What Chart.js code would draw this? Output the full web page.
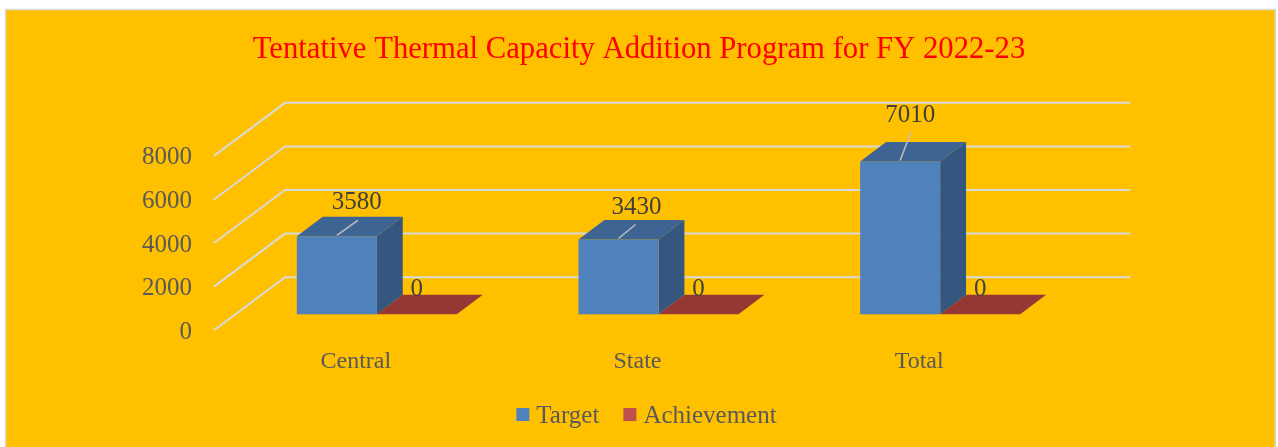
<!DOCTYPE html>
<html><head><meta charset="utf-8">
<script src="https://cdn.jsdelivr.net/npm/chart.js@4.4.0/dist/chart.umd.min.js"></script>
<style>html,body{margin:0;padding:0;background:#fff;overflow:hidden}</style>
</head><body>
<canvas id="c" width="1278" height="447" style="display:block;width:1278px;height:447px"></canvas>
<script>
// ---- data ----
const chartTitle = 'Tentative Thermal Capacity Addition Program for FY 2022-23';
const categories = ['Central', 'State', 'Total'];
const seriesNames = ['Target', 'Achievement'];
const targetValues = [3580, 3430, 7010];
const achievementValues = [0, 0, 0];
const yTicks = [0, 2000, 4000, 6000, 8000];

// ---- style ----
const SERIF = '"Liberation Serif", "Times New Roman", serif';
const COLORS = {
  bg: '#FFC000', border: '#D9D9D9', grid: '#D9D9D9', text: '#595959', label: '#404040',
  target: { front: '#4F81BD', top: '#3D6493', side: '#34567F' },
  achievement: { front: '#C0504D', top: '#943735', side: '#7A2C2A' }
};
const GEO = { wallDx: 70, wallDy: -53, barShift: 0.3, barDepth: 0.37 };
const LABEL_OFFSETS = [[20, -34], [18, -32], [10, -46]];
const LEADER_ENDS = [[21, -16], [17, -15], [11, -30]];

const plugin3d = {
  id: 'threeD',
  beforeDraw(chart) {
    const ctx = chart.ctx;
    ctx.save();
    ctx.fillStyle = '#FFFFFF';
    ctx.fillRect(0, 0, chart.width, chart.height);
    ctx.fillStyle = COLORS.bg;
    ctx.fillRect(5.5, 9.5, 1270, 440);
    ctx.strokeStyle = COLORS.border;
    ctx.lineWidth = 1.5;
    ctx.strokeRect(5.5, 9.5, 1270, 440);
    ctx.restore();
  },
  beforeDatasetsDraw(chart) {
    const ctx = chart.ctx, ys = chart.scales.y, a = chart.chartArea;
    ctx.save();
    ctx.strokeStyle = COLORS.grid;
    ctx.lineWidth = 2;
    ys.ticks.forEach(t => {
      const y = ys.getPixelForValue(t.value);
      ctx.beginPath();
      ctx.moveTo(a.left - 1, y);
      ctx.lineTo(a.left + GEO.wallDx, y + GEO.wallDy);
      ctx.lineTo(a.right + GEO.wallDx, y + GEO.wallDy);
      ctx.stroke();
    });
    ctx.restore();
  },
  beforeDatasetDraw() { return false; },
  afterDatasetsDraw(chart) {
    const ctx = chart.ctx;
    const sx = GEO.barShift * GEO.wallDx, sy = GEO.barShift * GEO.wallDy;
    const dx = GEO.barDepth * GEO.wallDx, dy = GEO.barDepth * GEO.wallDy;
    const palettes = [COLORS.target, COLORS.achievement];
    const tops = [[], []];
    ctx.save();
    categories.forEach((c, i) => {
      [1, 0].forEach(di => {
        const el = chart.getDatasetMeta(di).data[i];
        const pal = palettes[di];
        const x0 = el.x - el.width / 2 + sx, x1 = el.x + el.width / 2 + sx;
        const yT = el.y + sy, yB = el.base + sy;
        tops[di][i] = { cx: (x0 + x1) / 2, yT };
        ctx.fillStyle = pal.side;
        ctx.beginPath();
        ctx.moveTo(x1, yB); ctx.lineTo(x1 + dx, yB + dy); ctx.lineTo(x1 + dx, yT + dy); ctx.lineTo(x1, yT);
        ctx.closePath(); ctx.fill();
        if (yB - yT > 0.5) {
          ctx.fillStyle = pal.front;
          ctx.fillRect(x0, yT, x1 - x0, yB - yT);
        }
        ctx.fillStyle = pal.top;
        ctx.beginPath();
        ctx.moveTo(x0, yT); ctx.lineTo(x1, yT); ctx.lineTo(x1 + dx, yT + dy); ctx.lineTo(x0 + dx, yT + dy);
        ctx.closePath(); ctx.fill();
      });
    });
    ctx.font = '25px ' + SERIF;
    ctx.textAlign = 'center';
    ctx.textBaseline = 'middle';
    categories.forEach((c, i) => {
      const t = tops[0][i];
      ctx.strokeStyle = '#BFBFBF';
      ctx.lineWidth = 1.5;
      ctx.beginPath();
      ctx.moveTo(t.cx, t.yT - 1);
      ctx.lineTo(t.cx + LEADER_ENDS[i][0], t.yT + LEADER_ENDS[i][1]);
      ctx.stroke();
      ctx.fillStyle = COLORS.label;
      ctx.fillText(String(targetValues[i]), t.cx + LABEL_OFFSETS[i][0], t.yT + LABEL_OFFSETS[i][1]);
      const r = tops[1][i];
      ctx.fillText(String(achievementValues[i]), r.cx, r.yT - 25);
    });
    ctx.restore();
  },
  afterDraw(chart) {
    const ctx = chart.ctx;
    ctx.save();
    ctx.font = '25px ' + SERIF;
    ctx.textBaseline = 'middle';
    ctx.textAlign = 'left';
    const box = 13, gap = 7, itemGap = 24;
    const items = chart.data.datasets.map(d => ({ text: d.label, color: d.backgroundColor, w: ctx.measureText(d.label).width }));
    const total = items.reduce((s, it) => s + box + gap + it.w, 0) + itemGap * (items.length - 1);
    let x = 646.5 - total / 2;
    const y = 415;
    items.forEach(it => {
      ctx.fillStyle = it.color;
      ctx.fillRect(x, y - 7, box, box);
      ctx.fillStyle = COLORS.text;
      ctx.fillText(it.text, x + box + gap, y + 1);
      x += box + gap + it.w + itemGap;
    });
    ctx.restore();
  }
};

new Chart(document.getElementById('c'), {
  type: 'bar',
  data: {
    labels: categories,
    datasets: [
      { label: seriesNames[0], data: targetValues, backgroundColor: COLORS.target.front },
      { label: seriesNames[1], data: achievementValues, backgroundColor: COLORS.achievement.front }
    ]
  },
  options: {
    responsive: false,
    animation: false,
    devicePixelRatio: 1,
    layout: { padding: { top: 10, left: 0, right: 0, bottom: 54 } },
    datasets: { bar: { categoryPercentage: 0.568, barPercentage: 1 } },
    plugins: {
      legend: { display: false },
      tooltip: { enabled: false },
      title: {
        display: true, text: chartTitle, color: '#FF0000',
        font: { family: SERIF, size: 30.7, weight: 'normal' },
        padding: { top: 22, bottom: 87 }
      }
    },
    scales: {
      x: {
        grid: { display: false, drawTicks: false }, border: { display: false },
        ticks: { color: COLORS.text, font: { family: SERIF, size: 24 }, padding: 17 }
      },
      y: {
        min: 0, max: 8000,
        afterBuildTicks: s => { s.ticks = yTicks.map(v => ({ value: v })); },
        afterFit: s => { s.width = 215; },
        grid: { display: false, drawTicks: false }, border: { display: false },
        ticks: { color: COLORS.text, font: { family: SERIF, size: 25 }, padding: 23, labelOffset: 2, callback: v => String(v) }
      },
      yRight: {
        type: 'linear', position: 'right', min: 0, max: 8000,
        afterFit: s => { s.width = 218; },
        grid: { display: false, drawTicks: false }, border: { display: false },
        ticks: { display: false }
      }
    }
  },
  plugins: [plugin3d]
});
</script>
</body></html>
